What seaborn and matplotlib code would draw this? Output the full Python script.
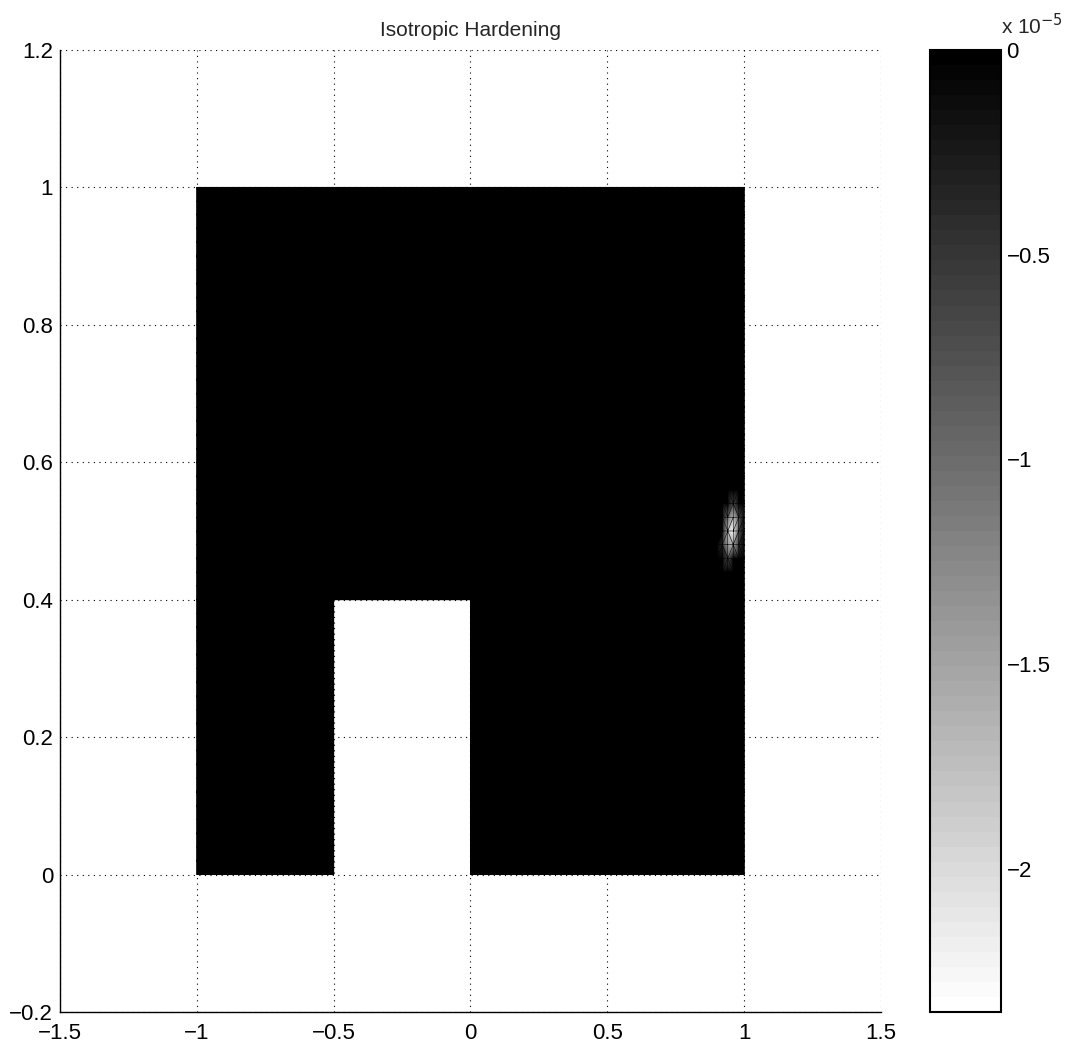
import numpy as np
import matplotlib
matplotlib.use("Agg")
import matplotlib.pyplot as plt
import matplotlib.tri as mtri
from matplotlib.ticker import FuncFormatter
import seaborn as sns

sns.set_theme(style="white")
plt.rcParams['font.family'] = ['Liberation Sans', 'DejaVu Sans']
plt.rcParams['axes.unicode_minus'] = True

# ---- data ----
title = "Isotropic Hardening"
x_nodes = np.linspace(-1.0, 1.0, 101)
y_nodes = np.linspace(0.0, 1.0, 51)
hole_x = [-0.5, 0.0]
hole_y = [0.0, 0.4]
# localized nonzero values near the right edge (x, y, value)
blob_x = [0.96, 0.96, 0.96, 0.94, 0.94, 0.98, 0.94, 0.96, 0.98, 0.94, 0.92, 0.98]
blob_y = [0.50, 0.48, 0.52, 0.50, 0.48, 0.52, 0.46, 0.54, 0.50, 0.52, 0.48, 0.48]
blob_v = [-2.3e-5, -1.6e-5, -1.7e-5, -1.8e-5, -1.4e-5, -0.8e-5, -0.7e-5, -0.7e-5, -0.8e-5, -1.0e-5, -0.4e-5, -0.5e-5]
cmin, cmax = -2.35e-5, 0.0
xticks = [-1.5, -1, -0.5, 0, 0.5, 1, 1.5]
yticks = [-0.2, 0, 0.2, 0.4, 0.6, 0.8, 1, 1.2]
cticks = [0, -0.5e-5, -1e-5, -1.5e-5, -2e-5]

# ---- build mesh ----
X, Y = np.meshgrid(x_nodes, y_nodes)
px, py = X.ravel(), Y.ravel()
tri = mtri.Triangulation(px, py)
cx = px[tri.triangles].mean(axis=1)
cy = py[tri.triangles].mean(axis=1)
mask = (cx > hole_x[0]) & (cx < hole_x[1]) & (cy > hole_y[0]) & (cy < hole_y[1])
tri.set_mask(mask)
z = np.zeros_like(px)
for bx, by, bv in zip(blob_x, blob_y, blob_v):
    idx = np.argmin((px - bx) ** 2 + (py - by) ** 2)
    z[idx] = bv

fig = plt.figure(figsize=(10.67, 10.55), dpi=100)
ax = fig.add_axes([0.0562, 0.0408, 0.7695, 0.9118])
cax = fig.add_axes([0.8716, 0.0408, 0.0665, 0.9118])

cmap = plt.get_cmap('gray_r', 64)
m = ax.tripcolor(tri, z, shading='gouraud', cmap=cmap, vmin=cmin, vmax=cmax)
ax.triplot(tri, color='black', linewidth=0.4)

ax.set_xlim(-1.5, 1.5)
ax.set_ylim(-0.2, 1.2)
ax.set_xticks(xticks)
ax.set_yticks(yticks)
ax.set_xticklabels(['\u22121.5', '\u22121', '\u22120.5', '0', '0.5', '1', '1.5'])
ax.set_yticklabels(['\u22120.2', '0', '0.2', '0.4', '0.6', '0.8', '1', '1.2'])
ax.set_axisbelow(True)
ax.grid(True, linestyle=(0, (1, 4)), color='black', linewidth=0.8)
for s in ['top', 'right']:
    ax.spines[s].set_visible(False)
for s in ['left', 'bottom']:
    ax.spines[s].set_color('black')
    ax.spines[s].set_linewidth(1.0)
ax.tick_params(direction='in', length=5, width=0.8, labelsize=16, colors='black')
ax.tick_params(axis='x', pad=8)
ax.tick_params(axis='y', pad=5)
ax.set_title(title, fontsize=15, pad=10)
ax.set_facecolor('white')

cb = fig.colorbar(m, cax=cax, ticks=cticks)
cb.ax.yaxis.set_major_formatter(FuncFormatter(lambda v, p: '0' if abs(v) < 1e-12 else ('%g' % (v / 1e-5)).replace('-', '\u2212')))
cb.ax.tick_params(direction='in', length=5, width=0.8, labelsize=16, colors='black', right=True, left=True, pad=4)
cb.outline.set_linewidth(1.5)
cb.outline.set_edgecolor('black')
fig.text(0.938, 0.976, 'x 10$^{\u22125}$', fontsize=15, ha='left', va='center')

fig.savefig('out.png', dpi=100, facecolor='white')
